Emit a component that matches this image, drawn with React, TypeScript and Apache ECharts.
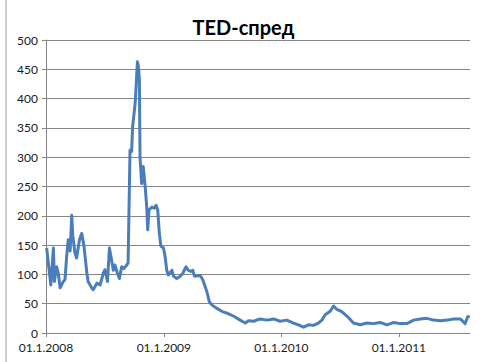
import React, { useEffect, useRef } from "react";
import * as echarts from "echarts";

const title = "TED-спред";

const dates: string[] = [
  "2008-01-03", "2008-01-16", "2008-01-24", "2008-01-27", "2008-02-03", "2008-02-08", "2008-02-14", "2008-02-24",
  "2008-02-29", "2008-03-05", "2008-03-10", "2008-03-16", "2008-03-21", "2008-03-24", "2008-03-31", "2008-04-05",
  "2008-04-14", "2008-04-21", "2008-04-28", "2008-05-07", "2008-05-11", "2008-05-22", "2008-05-27", "2008-06-07",
  "2008-06-17", "2008-06-27", "2008-07-02", "2008-07-10", "2008-07-16", "2008-07-21", "2008-07-28", "2008-08-02",
  "2008-08-10", "2008-08-16", "2008-08-23", "2008-08-30", "2008-09-08", "2008-09-12", "2008-09-18", "2008-09-23",
  "2008-09-26", "2008-10-04", "2008-10-11", "2008-10-14", "2008-10-17", "2008-10-19", "2008-10-24", "2008-10-29",
  "2008-11-04", "2008-11-09", "2008-11-12", "2008-11-16", "2008-11-25", "2008-12-02", "2008-12-08", "2008-12-13",
  "2008-12-18", "2008-12-23", "2008-12-31",
  "2009-01-05", "2009-01-10", "2009-01-15", "2009-01-26", "2009-01-31", "2009-02-10", "2009-02-21", "2009-03-01",
  "2009-03-11", "2009-03-18", "2009-03-26", "2009-04-01", "2009-04-06", "2009-04-24", "2009-05-02", "2009-05-15",
  "2009-05-22", "2009-05-30", "2009-06-15", "2009-06-30", "2009-07-16", "2009-08-05", "2009-08-26", "2009-09-11",
  "2009-09-21", "2009-10-07", "2009-10-27", "2009-11-17", "2009-12-08", "2009-12-28",
  "2010-01-18", "2010-02-08", "2010-02-23", "2010-03-11", "2010-03-26", "2010-04-11", "2010-04-26", "2010-05-07",
  "2010-05-17", "2010-06-02", "2010-06-12", "2010-06-23", "2010-07-03", "2010-07-13", "2010-07-29", "2010-08-13",
  "2010-09-03", "2010-09-24", "2010-10-14", "2010-11-04", "2010-11-25", "2010-12-16",
  "2011-01-05", "2011-01-26", "2011-02-16", "2011-03-09", "2011-03-29", "2011-04-19", "2011-05-10", "2011-05-31",
  "2011-06-20", "2011-07-11", "2011-07-26", "2011-08-02", "2011-08-09",
];

const spread: number[] = [
  145, 82, 145, 88, 113, 102, 77, 88,
  91, 130, 159, 140, 201, 167, 136, 128,
  159, 170, 148, 102, 88, 77, 74, 85,
  82, 102, 108, 88, 145, 130, 107, 116,
  102, 93, 113, 110, 116, 120, 312, 310,
  352, 392, 463, 455, 434, 301, 255, 284,
  250, 215, 176, 210, 215, 213, 218, 210,
  170, 148, 145,
  130, 107, 99, 107, 97, 93, 97, 102,
  113, 107, 105, 107, 97, 98, 91, 70,
  54, 48, 42, 37, 34, 29, 22, 17,
  21, 20, 24, 22, 24, 20,
  22, 17, 14, 10, 14, 13, 17, 22,
  31, 37, 46, 40, 38, 34, 26, 17,
  14, 17, 16, 18, 14, 18,
  16, 16, 22, 24, 25, 22, 21, 22,
  24, 24, 16, 27, 29,
];

const yearTicks: string[] = ["2008-01-01", "2009-01-01", "2010-01-01", "2011-01-01"];
const yearLabels: string[] = ["01.1.2008", "01.1.2009", "01.1.2010", "01.1.2011"];
const xMinDate = "2008-01-01";
const xMaxDate = "2011-08-10";

export default function App() {
  const ref = useRef<HTMLDivElement>(null);
  useEffect(() => {
    if (!ref.current) return;
    const chart = echarts.init(ref.current, null, { renderer: "svg" });
    const tickVals = yearTicks.map((d) => Date.parse(d));
    const labelMap: Record<number, string> = {};
    tickVals.forEach((t, i) => (labelMap[t] = yearLabels[i]));
    const font = "Lato, 'Open Sans', sans-serif";
    chart.setOption({
      animation: false,
      backgroundColor: "#ffffff",
      title: {
        text: title,
        left: "center",
        top: 12,
        textStyle: { fontFamily: font, fontWeight: "bold", fontSize: 20, color: "#000" },
      },
      grid: { left: 46, right: 17, top: 40, bottom: 29, containLabel: false },
      xAxis: {
        type: "value",
        min: Date.parse(xMinDate),
        max: Date.parse(xMaxDate),
        splitLine: { show: false },
        axisLine: { show: true, lineStyle: { color: "#868686", width: 1 } },
        axisTick: { show: true, length: 4, customValues: tickVals, lineStyle: { color: "#868686" } },
        axisLabel: {
          customValues: tickVals,
          formatter: (v: number) => labelMap[v] ?? "",
          fontFamily: font,
          fontSize: 12,
          color: "#1a1a1a",
          margin: 8,
        },
      },
      yAxis: {
        type: "value",
        min: 0,
        max: 500,
        interval: 50,
        splitLine: { show: true, lineStyle: { color: "#868686", width: 1 } },
        axisLine: { show: true, lineStyle: { color: "#868686", width: 1 } },
        axisTick: { show: true, length: 4, lineStyle: { color: "#868686" } },
        axisLabel: { fontFamily: font, fontSize: 12, color: "#1a1a1a", margin: 8 },
      },
      graphic: [
        {
          type: "line",
          shape: { x1: 6, y1: 0, x2: 6, y2: 362 },
          style: { stroke: "#9a9a9a", lineWidth: 1 },
        },
      ],
      series: [
        {
          type: "line",
          data: dates.map((d, i) => [Date.parse(d), spread[i]]),
          showSymbol: false,
          smooth: false,
          lineStyle: { color: "#4A7EBB", width: 3, join: "round" },
          itemStyle: { color: "#4A7EBB" },
        },
      ],
    });
    return () => chart.dispose();
  }, []);
  return (
    <div
      ref={ref}
      style={{ position: "fixed", left: 0, top: 0, width: 487, height: 362, background: "#fff" }}
    />
  );
}
